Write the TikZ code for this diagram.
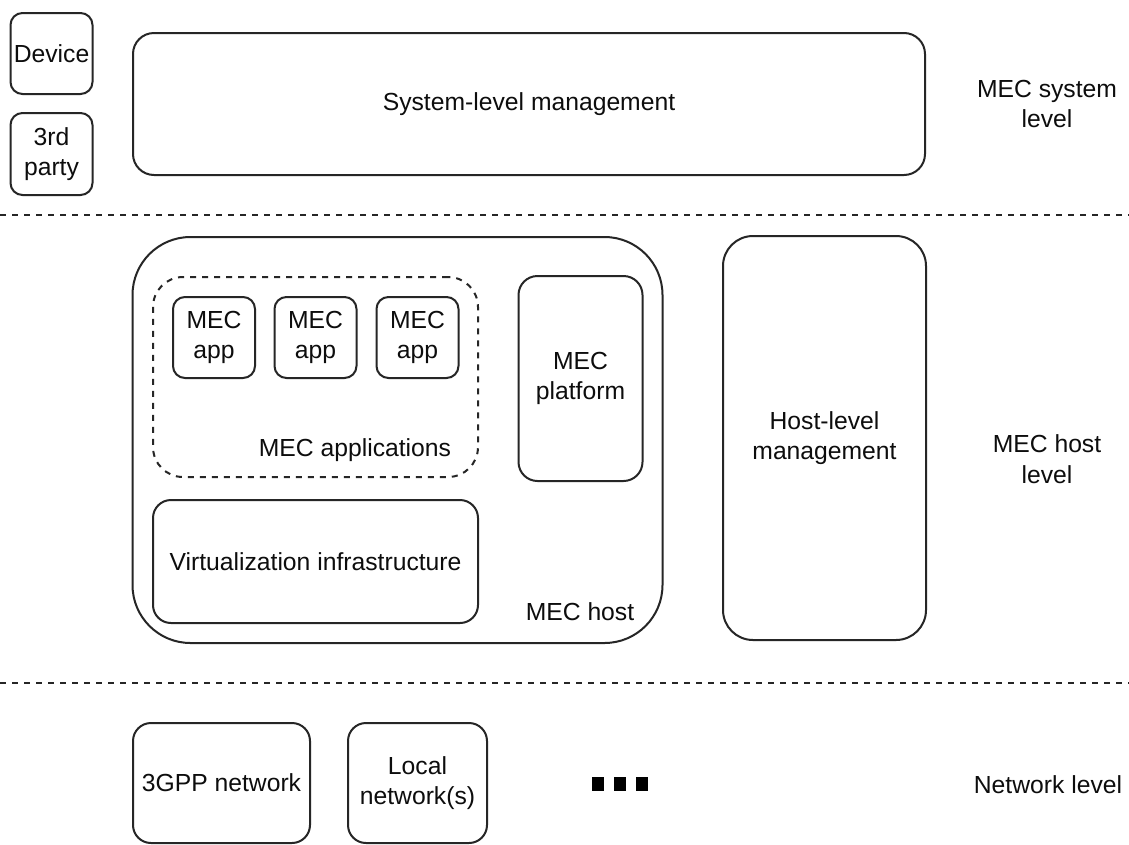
\documentclass[tikz,border=0pt]{standalone}
\usepackage{fontspec}
\setmainfont{Liberation Sans}
\begin{document}
\begin{tikzpicture}[x=1pt,y=-1pt,
  every node/.style={font=\fontsize{24.7}{30.5}\selectfont, text=black!95, align=center, inner sep=0pt},
  box/.style={draw=black!85, line width=2pt, rounded corners=#1},
  dashbox/.style={draw=black!85, line width=2pt, rounded corners=#1, dash pattern=on 6pt off 6pt},
  sep/.style={draw=black!85, line width=2pt, dash pattern=on 6pt off 6pt},
  sq/.style={fill=black, draw=none, minimum width=12pt, minimum height=14pt}
]
\useasboundingbox (0,0) rectangle (1129,844);
\fill[white] (0,0) rectangle (1129,844);

% system level
\node[box=12, minimum width=82pt, minimum height=81pt] (dev) at (51.5,53.5) {Device};
\node[box=12, minimum width=82pt, minimum height=82pt] (third) at (51.5,154) {3rd\\party};
\node[box=21, minimum width=792pt, minimum height=142pt] (sys) at (529,104) {System-level management};
\node (lvl1) at (1047,104) {MEC system\\level};

% separators
\coordinate (s1a) at (0,215);
\coordinate (s1b) at (1129,215);
\coordinate (s2a) at (0,683);
\coordinate (s2b) at (1129,683);
\draw[sep] (s1a) -- (s1b);
\draw[sep] (s2a) -- (s2b);

% host level
\node[box=58, minimum width=530pt, minimum height=406pt] (host) at (397.5,440) {};
\node (hostlbl) at (580,612) {MEC host};
\node[dashbox=30, minimum width=325pt, minimum height=200pt] (apps) at (315.5,377) {};
\node (appslbl) at (355,450) {MEC applications};
\node[box=12, minimum width=82pt, minimum height=81pt] (app1) at (214,337.5) {MEC\\app};
\node[box=12, minimum width=82pt, minimum height=81pt] (app2) at (315.5,337.5) {MEC\\app};
\node[box=12, minimum width=82pt, minimum height=81pt] (app3) at (417.5,337.5) {MEC\\app};
\node[box=19, minimum width=124pt, minimum height=205pt] (plat) at (580.5,378.5) {MEC\\platform};
\node[box=18, minimum width=325pt, minimum height=123pt] (virt) at (315.5,561.5) {Virtualization infrastructure};
\node[box=30, minimum width=203pt, minimum height=404pt] (hlm) at (824.5,438) {Host-level\\management};
\node (lvl2) at (1047,459) {MEC host\\level};

% network level
\node[box=18, minimum width=177pt, minimum height=120pt] (net1) at (221.5,783) {3GPP network};
\node[box=18, minimum width=139pt, minimum height=120pt] (net2) at (417.5,783) {Local\\network(s)};
\node[sq] (d1) at (597.5,784) {};
\node[sq] (d2) at (619.5,784) {};
\node[sq] (d3) at (642,784) {};
\node (lvl3) at (1048,785) {Network level};
\end{tikzpicture}
\end{document}
